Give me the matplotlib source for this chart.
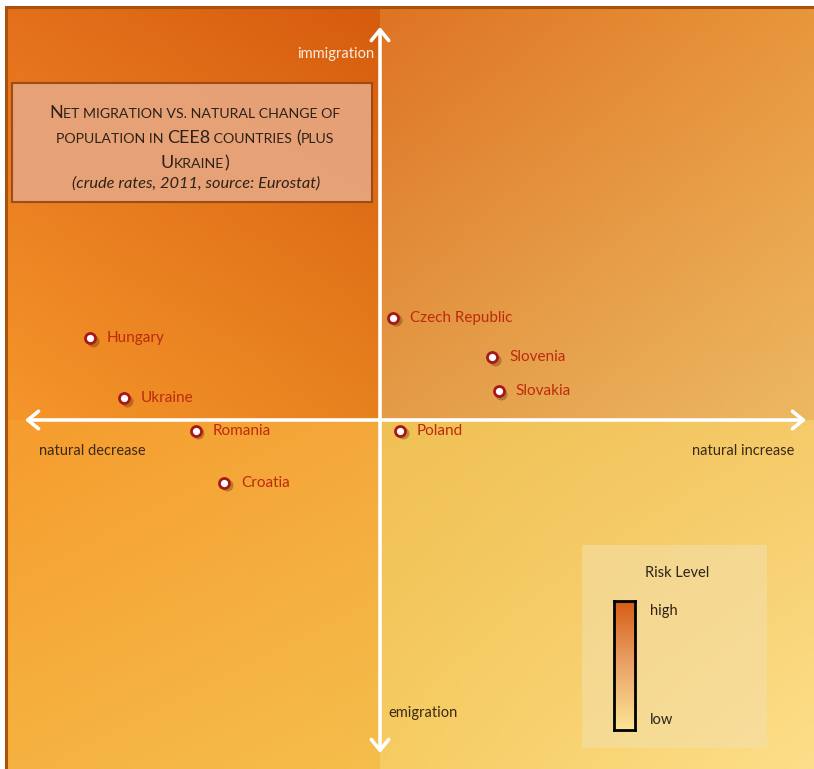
import numpy as np
import matplotlib
matplotlib.use("Agg")
import matplotlib.pyplot as plt
from matplotlib.patches import Rectangle, FancyArrowPatch
from matplotlib.transforms import offset_copy, IdentityTransform

plt.rcParams['font.family'] = ['Lato', 'DejaVu Sans']

# data: crude rates per 1000 inhabitants, 2011
countries = ['Hungary', 'Ukraine', 'Romania', 'Croatia',
             'Czech Republic', 'Slovenia', 'Slovakia', 'Poland']
natural_change = [-4.0, -3.53, -2.54, -2.15, 0.18, 1.55, 1.64, 0.28]
net_migration = [1.28, 0.34, -0.17, -0.98, 1.6, 0.98, 0.45, -0.17]

W, H = 814, 769
fig = plt.figure(figsize=(W / 100, H / 100), dpi=100)


def px(x, y):
    # pixel (from top-left) -> figure fraction
    return x / W, 1 - y / H


# main axes covers the framed area
FL, FT = 6, 7
ax = fig.add_axes([FL / W, 0, (W - FL) / W, (H - FT) / H])
XS, YS = 72.5, 64.0  # pixels per unit
CX, CY = 380, 420
x0, x1 = (FL - CX) / XS, (W - CX) / XS
y1, y0 = (CY - FT) / YS, (CY - H) / YS
ax.set_xticks([])
ax.set_yticks([])
for s in ['right', 'bottom']:
    ax.spines[s].set_visible(False)
for s in ['left', 'top']:
    ax.spines[s].set_color('#A8520E')
    ax.spines[s].set_linewidth(2.2)


def hexrgb(h):
    return np.array([int(h[i:i + 2], 16) / 255 for i in (1, 3, 5)])


def quad(ext, tl, tr, bl, br):
    n = 80
    u = np.linspace(0, 1, n)[None, :, None]
    v = np.linspace(0, 1, n)[:, None, None]
    top = hexrgb(tl) * (1 - u) + hexrgb(tr) * u
    bot = hexrgb(bl) * (1 - u) + hexrgb(br) * u
    img = top * (1 - v) + bot * v
    ax.imshow(img, extent=ext, origin='upper', aspect='auto',
              interpolation='bilinear', zorder=0)


quad((x0, 0, 0, y1), '#E4701C', '#D65C0E', '#F5962A', '#E7811F')
quad((0, x1, 0, y1), '#DE7424', '#E8963C', '#E49C48', '#EDB862')
quad((x0, 0, y0, 0), '#F69C2E', '#F4A83A', '#F6B240', '#F5BE4C')
quad((0, x1, y0, 0), '#F0C054', '#F5CA68', '#F6CC62', '#FDDF8A')
ax.set_xlim(x0, x1)
ax.set_ylim(y0, y1)

# axis arrows
arw = dict(arrowstyle='<->,head_length=0.55,head_width=0.45',
           color='white', lw=2.6, mutation_scale=14, zorder=3,
           shrinkA=0, shrinkB=0)
ax.add_patch(FancyArrowPatch(((25 - CX) / XS, 0), ((806 - CX) / XS, 0), **arw))
ax.add_patch(FancyArrowPatch((0, (CY - 753) / YS), (0, (CY - 27) / YS), **arw))

# scatter with shadow
shadow = offset_copy(ax.transData, fig=fig, x=2.5, y=-2.5, units='dots')
ax.scatter(natural_change, net_migration, s=75, color='#5A2A08', alpha=0.35,
           lw=0, transform=shadow, zorder=4)
ax.scatter(natural_change, net_migration, s=52, facecolor='white',
           edgecolor='#A81818', lw=2.0, zorder=5)
for name, xv, yv in zip(countries, natural_change, net_migration):
    ax.annotate(name, (xv, yv), xytext=(12, 0), textcoords='offset points',
                va='center', ha='left', fontsize=11, color='#BE2A0E',
                zorder=6)

# axis captions
fig.text(*px(374, 54), 'immigration', ha='right', va='center',
         fontsize=10.5, color='#FBEBDD')
fig.text(*px(92, 451), 'natural decrease', ha='center', va='center',
         fontsize=10.5, color='#3A2A18')
fig.text(*px(743, 451), 'natural increase', ha='center', va='center',
         fontsize=10.5, color='#3A2A18')
fig.text(*px(423, 713), 'emigration', ha='center', va='center',
         fontsize=10.5, color='#3A2A18')

# title box
bx0, by0 = px(12, 202)
bx1, by1 = px(372, 83)
fig.patches.append(Rectangle((bx0, by0), bx1 - bx0, by1 - by0,
                             transform=fig.transFigure, facecolor='#E7A47C',
                             edgecolor='#9A4814', lw=1.5, alpha=0.95))

renderer = fig.canvas.get_renderer()


def smallcaps_line(runs, cx, cy, big=13, small=10.2):
    texts = []
    for txt, is_big in runs:
        t = fig.text(0, 0, txt, fontsize=big if is_big else small,
                     color='#2E2218', va='baseline', ha='left',
                     transform=IdentityTransform())
        texts.append(t)
    widths = [t.get_window_extent(renderer).width for t in texts]
    x = cx - sum(widths) / 2
    ybase = H - cy
    for t, w in zip(texts, widths):
        t.set_position((x, ybase))
        x += w


smallcaps_line([('N', True), ('ET MIGRATION VS. NATURAL CHANGE OF', False)], 195, 118)
smallcaps_line([('POPULATION IN ', False), ('CEE8', True), (' COUNTRIES ', False),
                ('(', True), ('PLUS', False)], 195, 143)
smallcaps_line([('U', True), ('KRAINE', False), (')', True)], 195, 168)
fig.text(*px(196, 184), '(crude rates, 2011, source: Eurostat)', ha='center',
         va='center', fontsize=11.8, style='italic', color='#2E2218')

# legend box
lx0, ly0 = px(582, 748)
lx1, ly1 = px(767, 545)
fig.patches.append(Rectangle((lx0, ly0), lx1 - lx0, ly1 - ly0,
                             transform=fig.transFigure, facecolor='#F4E0AE',
                             edgecolor='none', alpha=0.55))
fig.text(*px(677, 573), 'Risk Level', ha='center', va='center',
         fontsize=10.5, color='#2E2218')
fig.text(*px(650, 611), 'high', ha='left', va='center', fontsize=10.5,
         color='#2E2218')
fig.text(*px(650, 720), 'low', ha='left', va='center', fontsize=10.5,
         color='#2E2218')
cl, cb = px(614, 730)
cr, ct = px(635, 601)
cax = fig.add_axes([cl, cb, cr - cl, ct - cb], zorder=3)
grad = np.linspace(0, 1, 100)[:, None, None]
mid = hexrgb('#EAA46A')
cimg = np.where(grad < 0.5,
                hexrgb('#D65E16') * (1 - 2 * grad) + mid * 2 * grad,
                mid * (2 - 2 * grad) + hexrgb('#FCE494') * (2 * grad - 1))
cax.imshow(cimg, aspect='auto', extent=(0, 1, 0, 1))
cax.set_xticks([])
cax.set_yticks([])
for s in cax.spines.values():
    s.set_linewidth(2)
    s.set_color('black')

fig.savefig('out.png', dpi=100)
